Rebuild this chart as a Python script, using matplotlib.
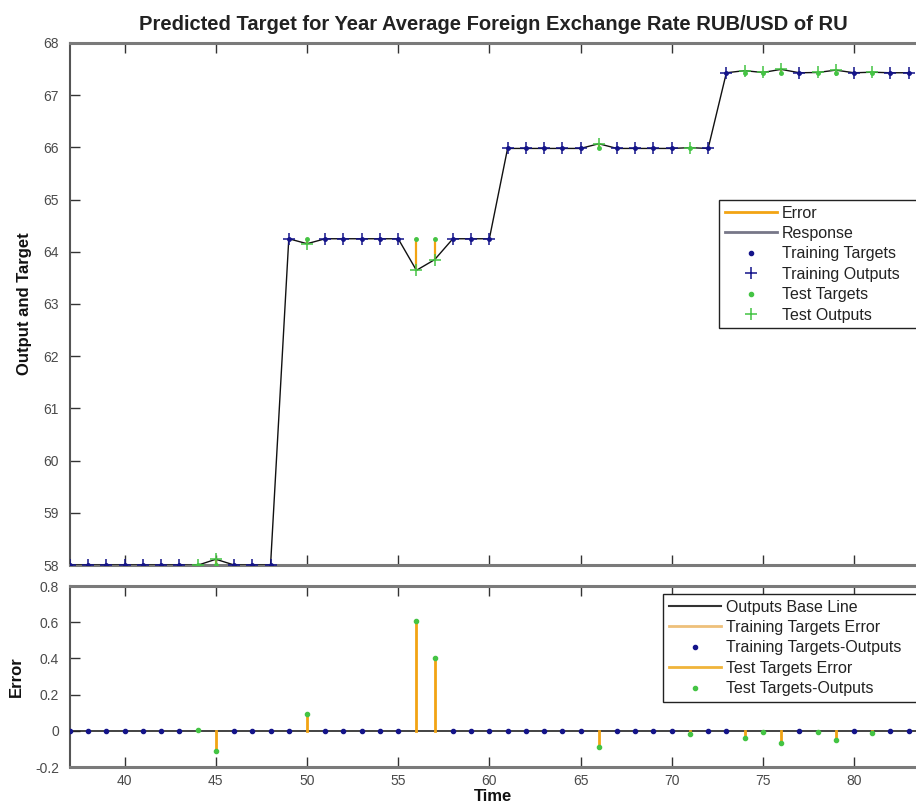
import matplotlib
matplotlib.use('Agg')
import matplotlib.pyplot as plt
import numpy as np
from matplotlib.lines import Line2D

plt.rcParams['font.family'] = ['Liberation Sans', 'DejaVu Sans']

# ---------------- data ----------------
time = list(range(37, 84))
targets = [58.0] * 12 + [64.25] * 12 + [65.98] * 12 + [67.43] * 11
outputs = [58.0, 58.0, 58.0, 58.0, 58.0, 58.0, 58.0, 57.995, 58.11, 58.0, 58.0, 58.0,
           64.25, 64.155, 64.25, 64.25, 64.25, 64.25, 64.25, 63.645, 63.85, 64.25, 64.25, 64.25,
           65.98, 65.98, 65.98, 65.98, 65.98, 66.07, 65.98, 65.98, 65.98, 65.98, 65.995, 65.98,
           67.43, 67.47, 67.435, 67.495, 67.43, 67.435, 67.48, 67.43, 67.44, 67.43, 67.43]
test_times = [44, 45, 50, 56, 57, 66, 71, 74, 75, 76, 78, 79, 81]

title = 'Predicted Target for Year Average Foreign Exchange Rate RUB/USD of RU'
xticks = [40, 45, 50, 55, 60, 65, 70, 75, 80]
yticks_top = [58, 59, 60, 61, 62, 63, 64, 65, 66, 67, 68]
yticks_bot = [-0.2, 0, 0.2, 0.4, 0.6, 0.8]
yticklabels_bot = ['-0.2', '0', '0.2', '0.4', '0.6', '0.8']

t = np.array(time)
tg = np.array(targets)
op = np.array(outputs)
err = tg - op
is_test = np.isin(t, test_times)
is_train = ~is_test

BLUE = '#14148a'
GREEN = '#44c444'
ORANGE = '#f2a413'
ORANGE_LIGHT = '#eec07a'
SPINE = '#7a7a7a'
TXT = '#4a4a4a'

W, H = 916, 805
fig = plt.figure(figsize=(W / 100, H / 100), dpi=100)

def fx(px):
    return px / W

def fy(py):
    return 1 - py / H

left = fx(70)
width = fx(916 - 70)
ax1 = fig.add_axes([left, fy(565), width, fy(43) - fy(565)])
ax2 = fig.add_axes([left, fy(767), width, fy(586) - fy(767)])
xlim = (37, 83.4)

# ---------- top axes ----------
for tt, a, b in zip(t, tg, op):
    ax1.plot([tt, tt], [a, b], color=ORANGE, lw=1.6, zorder=2)
ax1.plot(t, op, color='#111111', lw=1.0, zorder=3)
ax1.plot(t[is_train], tg[is_train], '.', color=BLUE, ms=5, zorder=4)
ax1.plot(t[is_train], op[is_train], '+', color=BLUE, ms=8, mew=1.1, zorder=5)
ax1.plot(t[is_test], tg[is_test], '.', color=GREEN, ms=5, zorder=4)
ax1.plot(t[is_test], op[is_test], '+', color=GREEN, ms=8, mew=1.1, zorder=5)

ax1.set_xlim(*xlim)
ax1.set_ylim(58, 68)
ax1.set_xticks(xticks)
ax1.set_xticklabels([])
ax1.set_yticks(yticks_top)
ax1.tick_params(axis='both', direction='in', length=7, width=1, color='#333333',
                labelsize=10, labelcolor=TXT, top=True, right=False, pad=8)
ax1.set_title(title, fontsize=14.5, fontweight='bold', color='#222222', pad=9)
ax1.set_ylabel('Output and Target', fontsize=12, fontweight='bold', color='#111111', labelpad=8)

for s in ['top', 'bottom']:
    ax1.spines[s].set_color(SPINE)
    ax1.spines[s].set_linewidth(2.2)
ax1.spines['left'].set_color('#555555')
ax1.spines['left'].set_linewidth(1.5)
ax1.spines['right'].set_visible(False)

LEG_FS = 11.5
h1 = [Line2D([], [], color=ORANGE, lw=2),
      Line2D([], [], color='#777788', lw=2),
      Line2D([], [], ls='none', marker='.', color=BLUE, ms=6),
      Line2D([], [], ls='none', marker='+', color=BLUE, ms=8, mew=1.1),
      Line2D([], [], ls='none', marker='.', color=GREEN, ms=6),
      Line2D([], [], ls='none', marker='+', color=GREEN, ms=8, mew=1.1)]
l1 = ['Error', 'Response', 'Training Targets', 'Training Outputs', 'Test Targets', 'Test Outputs']
leg1 = ax1.legend(h1, l1, loc='upper left',
                  bbox_to_anchor=(fx(719), fy(200) - 0.2, fx(930 - 719), 0.2),
                  mode='expand',
                  bbox_transform=fig.transFigure, borderaxespad=0, fontsize=LEG_FS,
                  handlelength=3.3, handletextpad=0.3, borderpad=0.35, labelspacing=0.34,
                  frameon=True, fancybox=False, edgecolor='#222222', framealpha=1)
leg1.get_frame().set_linewidth(1.0)
for txt in leg1.get_texts():
    txt.set_color('#222222')

# ---------- bottom axes ----------
ax2.plot(xlim, [0, 0], color='#222222', lw=1.2, zorder=2)
for tt, e in zip(t, err):
    ax2.plot([tt, tt], [0, e], color=ORANGE, lw=2, zorder=3)
ax2.plot(t[is_train], err[is_train], '.', color=BLUE, ms=6, zorder=4)
ax2.plot(t[is_test], err[is_test], '.', color=GREEN, ms=6, zorder=4)

ax2.set_xlim(*xlim)
ax2.set_ylim(-0.2, 0.8)
ax2.set_xticks(xticks)
ax2.set_yticks(yticks_bot)
ax2.set_yticklabels(yticklabels_bot)
ax2.tick_params(axis='both', direction='in', length=7, width=1, color='#333333',
                labelsize=10, labelcolor=TXT, top=True, right=False, pad=8)
ax2.tick_params(axis='x', pad=5)
ax2.set_xlabel('Time', fontsize=12, fontweight='bold', color='#111111', labelpad=1)
ax2.set_ylabel('Error', fontsize=12, fontweight='bold', color='#111111', labelpad=8)
for s in ['top', 'bottom']:
    ax2.spines[s].set_color(SPINE)
    ax2.spines[s].set_linewidth(2.2)
ax2.spines['left'].set_color('#555555')
ax2.spines['left'].set_linewidth(1.5)
ax2.spines['right'].set_visible(False)

h2 = [Line2D([], [], color='#333333', lw=1.5),
      Line2D([], [], color=ORANGE_LIGHT, lw=2),
      Line2D([], [], ls='none', marker='.', color=BLUE, ms=6),
      Line2D([], [], color='#f0b43a', lw=2),
      Line2D([], [], ls='none', marker='.', color=GREEN, ms=6)]
l2 = ['Outputs Base Line', 'Training Targets Error', 'Training Targets-Outputs',
      'Test Targets Error', 'Test Targets-Outputs']
leg2 = ax2.legend(h2, l2, loc='upper left',
                  bbox_to_anchor=(fx(663), fy(594) - 0.2, fx(930 - 663), 0.2),
                  mode='expand',
                  bbox_transform=fig.transFigure, borderaxespad=0, fontsize=LEG_FS,
                  handlelength=3.3, handletextpad=0.3, borderpad=0.35, labelspacing=0.34,
                  frameon=True, fancybox=False, edgecolor='#222222', framealpha=1)
leg2.get_frame().set_linewidth(1.0)
for txt in leg2.get_texts():
    txt.set_color('#222222')

fig.savefig('out.png', dpi=100)
